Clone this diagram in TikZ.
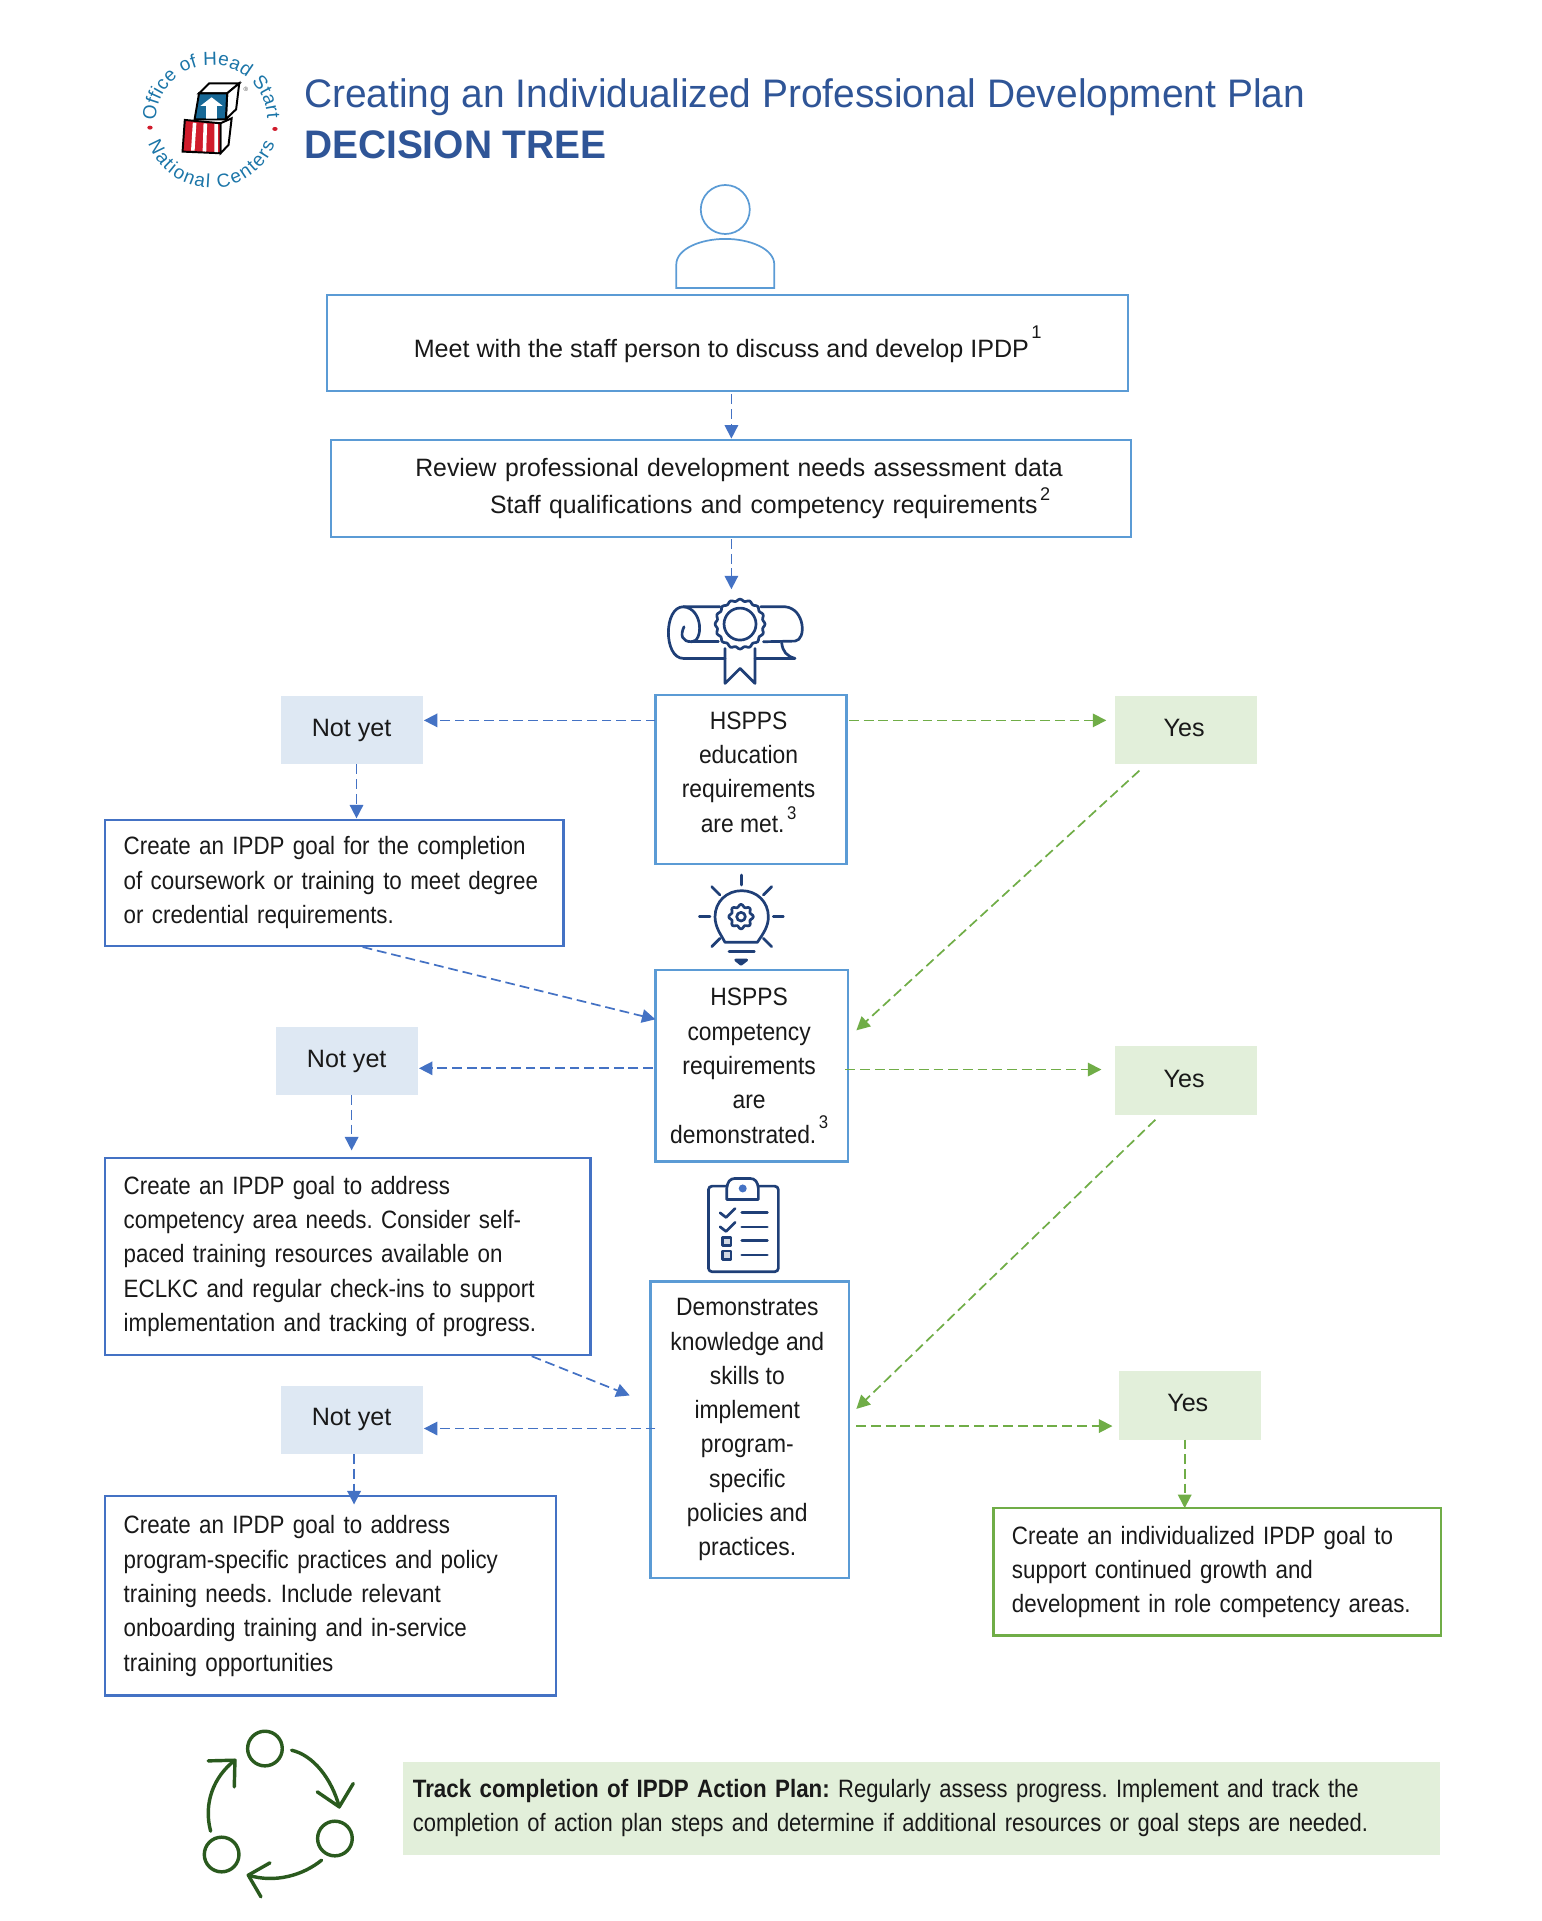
\documentclass[tikz,border=0pt]{standalone}
\usepackage{fontspec}
\setmainfont{Liberation Sans}
\newfontfamily\boxfont[FakeStretch=0.89]{Liberation Sans}
\newfontfamily\trackfont[FakeStretch=0.875]{Liberation Sans}
\newfontfamily\hsfont[FakeStretch=0.91]{Liberation Sans}
\newfontfamily\reviewfont[FakeStretch=0.988]{Liberation Sans}
\newfontfamily\titlefont[FakeStretch=0.977]{Liberation Sans}
\usetikzlibrary{arrows.meta,calc,decorations.text}
\definecolor{boxblue}{HTML}{4472C4}
\definecolor{lightblue}{HTML}{5B9BD5}
\definecolor{boxgreen}{HTML}{70AD47}
\definecolor{nyfill}{HTML}{DEE8F3}
\definecolor{yesfill}{HTML}{E2EFDA}
\definecolor{titleblue}{HTML}{2F5597}
\definecolor{navy}{HTML}{1F3F77}
\definecolor{darkgreen}{HTML}{2A5A1E}
\definecolor{logoblue}{HTML}{1B75A8}
\definecolor{logored}{HTML}{D01C2C}
\newcommand{\sz}{\frenchspacing\fontsize{20.5}{28}\selectfont}
\newcommand{\yesl}{\hspace*{-3pt}\raisebox{-5.5pt}[0pt][0pt]{Yes}}
\newcommand{\sps}[2]{\kern2pt\raisebox{#1}[0pt][0pt]{\fontsize{15}{15}\selectfont #2}}
\newcommand{\ls}{\hspace*{-4pt}}
\tikzset{
  x=1pt,y=-1pt,
  basebox/.style={rectangle,inner sep=0pt,outer sep=0pt,line width=1.8pt,font=\sz,text=black!90},
  leftbox/.style={basebox,draw=boxblue,align=left,inner xsep=15pt,font=\boxfont\sz},
  topbox/.style={basebox,draw=lightblue},
  hsbox/.style={basebox,draw=lightblue,align=center,font=\hsfont\sz},
  greenbox/.style={basebox,draw=boxgreen,align=left,inner xsep=15pt,font=\boxfont\sz},
  nybox/.style={basebox,fill=nyfill,minimum width=116pt,minimum height=56pt},
  yesbox/.style={basebox,fill=yesfill,minimum width=116pt,minimum height=56pt},
  bluearrow/.style={draw=boxblue,line width=1.4pt,dash pattern=on 8pt off 4pt,-{Triangle[length=11pt,width=11pt]}},
  greenarrow/.style={draw=boxgreen,line width=1.4pt,dash pattern=on 8pt off 4pt,-{Triangle[length=11pt,width=11pt]}},
  iconline/.style={draw=navy,line width=2.2pt,line cap=round,line join=round},
  cycleline/.style={draw=darkgreen,line width=2.8pt,line cap=round,line join=round},
}
\begin{document}
\begin{tikzpicture}
\useasboundingbox (0,0) rectangle (1258,1568);

% logo
\begin{scope}[shift={(81.6,16.3)},x=.3644pt,y=-.272pt]
  \fill[logored] (112,323) circle[x radius=6,y radius=6];
  \fill[logored] (392,327) circle[x radius=6,y radius=6];
  \draw[line width=1.6pt,fill=white] (222,220)--(245,190)--(312,190)--(285,220)--cycle;
  \draw[line width=1.6pt,fill=white] (285,220)--(312,190)--(305,268)--(282,298)--cycle;
  \draw[line width=1.6pt,fill=logoblue!90!black] (222,220)--(285,220)--(282,298)--(212,298)--cycle;
  \fill[white] (250,232)--(275,258)--(262,258)--(262,296)--(238,296)--(238,258)--(225,258)--cycle;
  \draw[line width=1.6pt,fill=white] (270,310)--(295,295)--(288,375)--(270,400)--cycle;
  \draw[line width=1.6pt,fill=logored] (190,300)--(270,310)--(270,400)--(185,395)--cycle;
  \fill[white] (208,308)--(216,309)--(212,392)--(204,392)--cycle;
  \fill[white] (232,310)--(240,311)--(238,395)--(230,394)--cycle;
  \fill[white] (256,312)--(264,313)--(264,397)--(256,396)--cycle;
  \node[font=\fontsize{5}{5}\selectfont,text=black!70,inner sep=0pt] (reg) at (327,207) {®};
\end{scope}
\path[decorate,decoration={text along path,text align={fit to path},
  text={|\fontsize{15.5}{15.5}\selectfont\color{logoblue}|Office of Head Start}}]
  (172.7,98.5)+(180:45.5) arc[start angle=180,end angle=358,radius=45.5];
\path[decorate,decoration={text along path,text align={fit to path},
  text={|\fontsize{15.5}{15.5}\selectfont\color{logoblue}|National Centers}}]
  (172.7,98.5)+(160:55) arc[start angle=160,end angle=20,radius=55];

% title
\node[anchor=base west,inner sep=0pt,text=titleblue,font=\titlefont\fontsize{32.5}{36}\selectfont] (title) at (248,88) {Creating an Individualized Professional Development Plan};
\node[anchor=base west,inner sep=0pt,text=titleblue,font=\titlefont\bfseries\fontsize{32.5}{36}\selectfont] (subtitle) at (248,129) {DECISION TREE};

% person
\draw[lightblue,line width=1.4pt] (592,171) circle[radius=20];
\draw[lightblue,line width=1.4pt] (552,235)--(552,216) .. controls (552,203) and (572,195) .. (592,195) .. controls (612,195) and (632,203) .. (632,216) -- (632,235) -- cycle;

% top boxes
\node[topbox,minimum width=654pt,minimum height=78pt] (meet) at (594,280) {\raisebox{-12pt}[0pt][0pt]{Meet with the staff person to discuss and develop IPDP\sps{16pt}{1}}};
\node[topbox,font=\reviewfont\sz,minimum height=79pt,text width=584pt,inner xsep=34.5pt,align=left] (review) at (596.5,398.5) {\hspace*{34.5pt}Review professional development needs assessment data\\[2pt]\hspace*{95.5pt}Staff qualifications and competency requirements\sps{10pt}{2}};

% decision boxes
\node[hsbox,minimum width=156pt,minimum height=138pt] (hsa) at (613,636) {\ls HSPPS\\\ls education\\\ls requirements\\\ls are met.\sps{10pt}{3}\\[-16pt]~};
\node[hsbox,minimum width=157pt,minimum height=156pt] (hsb) at (613.5,870) {\ls HSPPS\\\ls competency\\\ls requirements\\\ls are\\\ls demonstrated.\sps{12pt}{3}};
\node[hsbox,minimum width=162pt,minimum height=242pt] (hsc) at (612,1167) {\ls Demonstrates\\\ls knowledge and\\\ls skills to\\\ls implement\\\ls program-\\\ls specific\\\ls policies and\\\ls practices.};

% not yet / yes
\node[nybox] (nya) at (287,596) {Not yet};
\node[nybox] (nyb) at (283,866) {Not yet};
\node[nybox] (nyc) at (287,1159) {Not yet};
\node[yesbox] (yesa) at (968,596) {\yesl};
\node[yesbox] (yesb) at (968,882) {\yesl};
\node[yesbox] (yesc) at (971,1147) {\yesl};

% left boxes
\node[leftbox,text width=344pt,minimum height=103pt] (goala) at (273,720.5) {Create an IPDP goal for the completion\\of coursework or training to meet degree\\or credential requirements.};
\node[leftbox,text width=366pt,minimum height=161pt] (goalb) at (284,1025.5) {Create an IPDP goal to address\\competency area needs. Consider self-\\paced training resources available on\\ECLKC and regular check-ins to support\\implementation and tracking of progress.};
\node[leftbox,text width=338pt,minimum height=163pt] (goalc) at (270,1302.5) {Create an IPDP goal to address\\program-specific practices and policy\\training needs. Include relevant\\onboarding training and in-service\\training opportunities\\[-24pt]~};
\node[greenbox,text width=335pt,minimum height=104pt] (goald) at (993.5,1283) {Create an individualized IPDP goal to\\support continued growth and\\development in role competency areas.};

% track box
\node[basebox,font=\trackfont\sz,fill=yesfill,minimum height=76pt,text width=830pt,inner xsep=8pt,align=left] (track) at (752,1476) {{\boxfont\bfseries Track completion of IPDP Action Plan:} Regularly assess progress. Implement and track the\\completion of action plan steps and determine if additional resources or goal steps are needed.};

% connectors
\draw[bluearrow] ($(meet.south west)+(330,3)$) -- ($(review.north west)+(327,-1)$);
\draw[bluearrow] ($(review.south west)+(327,2)$) -- ($(hsa.north west)+(62,-86)$);
\draw[bluearrow] ($(hsa.north west)+(0,21)$) -- ($(nya.north east)+(1,20)$);
\draw[greenarrow] ($(hsa.north east)+(2,21)$) -- ($(yesa.north west)+(-7,20)$);
\draw[bluearrow] ($(nya.south west)+(62,0)$) -- ($(goala.north west)+(205,-1)$);
\draw[bluearrow] ($(goala.south west)+(210,1)$) -- ($(hsb.north west)+(0,40)$);
\draw[greenarrow] ($(yesa.south west)+(20,5)$) -- ($(hsb.north east)+(7,49)$);
\draw[bluearrow] ($(hsb.north west)+(-2,80)$) -- ($(nyb.north east)+(1,34)$);
\draw[greenarrow] ($(hsb.north east)+(-2,81)$) -- ($(yesb.north west)+(-11,19)$);
\draw[bluearrow] ($(nyb.south west)+(62,0)$) -- ($(goalb.north west)+(201,-6)$);
\draw[bluearrow] ($(goalb.south west)+(348,1)$) -- ($(hsc.north west)+(-17,93)$);
\draw[greenarrow] ($(yesb.south west)+(33,4)$) -- ($(hsc.north east)+(6,104)$);
\draw[bluearrow] ($(hsc.north west)+(4,120)$) -- ($(nyc.north east)+(1,35)$);
\draw[greenarrow] ($(hsc.north east)+(6,118)$) -- ($(yesc.north west)+(-5,45)$);
\draw[bluearrow] ($(nyc.south west)+(60,0)$) -- ($(goalc.north west)+(203,7)$);
\draw[greenarrow] ($(yesc.south west)+(54,0)$) -- ($(goald.north west)+(156,0)$);

% diploma icon
\begin{scope}[shift={(489.8,473.5)},x=.272pt,y=-.272pt]
  \draw[iconline] (360,80)--(250,80) .. controls (190,80) and (190,235) .. (250,235) -- (375,235);
  \draw[iconline] (250,80) .. controls (310,85) and (310,185) .. (275,185) .. controls (245,185) and (240,165) .. (252,140);
  \draw[iconline] (275,185)--(355,185);
  \draw[iconline] (482,80)--(555,80) .. controls (615,85) and (620,180) .. (585,183) -- (490,185);
  \draw[iconline] (465,235)--(585,235) .. controls (560,228) and (548,215) .. (545,188);
  \draw[iconline] plot[smooth cycle,domain=0:356.25,samples=96,variable=\t] ({420+(72+3*cos(16*\t))*cos(\t)},{132+(72+3*cos(16*\t))*sin(\t)});
  \draw[iconline] (420,132) circle[radius=48];
  \draw[iconline] (375,205)--(375,310)--(420,265)--(465,310)--(465,205);
\end{scope}
% bulb icon
\begin{scope}[shift={(489.8,473.5)},x=.272pt,y=-.272pt]
  \draw[iconline] (375,1087) .. controls (360,1060) and (345,1040) .. (345,1010) .. controls (345,965) and (380,932) .. (425,932) .. controls (470,932) and (505,965) .. (505,1010) .. controls (505,1040) and (490,1060) .. (472,1087) -- cycle;
  \draw[iconline] plot[smooth cycle,domain=0:352.5,samples=48,variable=\t] ({423+(33+4*cos(8*\t))*cos(\t)},{1010+(33+4*cos(8*\t))*sin(\t)});
  \draw[iconline] (423,1010) circle[radius=13];
  \draw[iconline] (425,885)--(425,915);
  \draw[iconline] (335,920)--(360,945);
  \draw[iconline] (515,920)--(490,945);
  \draw[iconline] (298,1010)--(330,1010);
  \draw[iconline] (520,1010)--(550,1010);
  \draw[iconline] (335,1100)--(360,1075);
  \draw[iconline] (515,1100)--(490,1075);
  \draw[iconline] (387,1115)--(463,1115);
  \draw[iconline,fill=navy] (407,1140)--(440,1140)--(423,1153)--cycle;
\end{scope}
% clipboard icon
\begin{scope}[shift={(555.1,955.1)},x=.272pt,y=-.272pt]
  \draw[iconline,rounded corners=3pt] (85,48) rectangle (295,305);
  \draw[iconline,fill=white] (140,88)--(140,55) .. controls (142,35) and (150,25) .. (165,25) -- (210,25) .. controls (225,25) and (233,35) .. (235,55) -- (235,88) -- cycle;
  \fill[boxblue] (188,55) circle[radius=12];
  \draw[iconline] (120,128)--(138,142)--(165,115);
  \draw[iconline] (120,170)--(138,184)--(165,157);
  \draw[iconline,fill=navy!20] (127,202) rectangle (153,227);
  \draw[iconline,fill=navy!20] (127,243) rectangle (153,268);
  \draw[iconline] (185,128)--(262,128);
  \draw[iconline] (185,171)--(262,171);
  \draw[iconline] (185,212)--(262,212);
  \draw[iconline] (185,255)--(262,255);
\end{scope}
% cycle icon
\begin{scope}[shift={(146.9,1404.1)},x=.272pt,y=-.272pt]
  \draw[cycleline] (255,85) circle[radius=52];
  \draw[cycleline] (465,355) circle[radius=52];
  \draw[cycleline] (125,403) circle[radius=52];
  \draw[cycleline] (335,90) .. controls (400,105) and (455,175) .. (478,260);
  \draw[cycleline] (412,215)--(478,260)--(520,190);
  \draw[cycleline] (425,420) .. controls (370,465) and (285,490) .. (205,465);
  \draw[cycleline] (270,428)--(205,465)--(243,530);
  \draw[cycleline] (92,333) .. controls (70,250) and (100,170) .. (165,120);
  \draw[cycleline] (85,122)--(165,120)--(163,200);
\end{scope}
\end{tikzpicture}
\end{document}
